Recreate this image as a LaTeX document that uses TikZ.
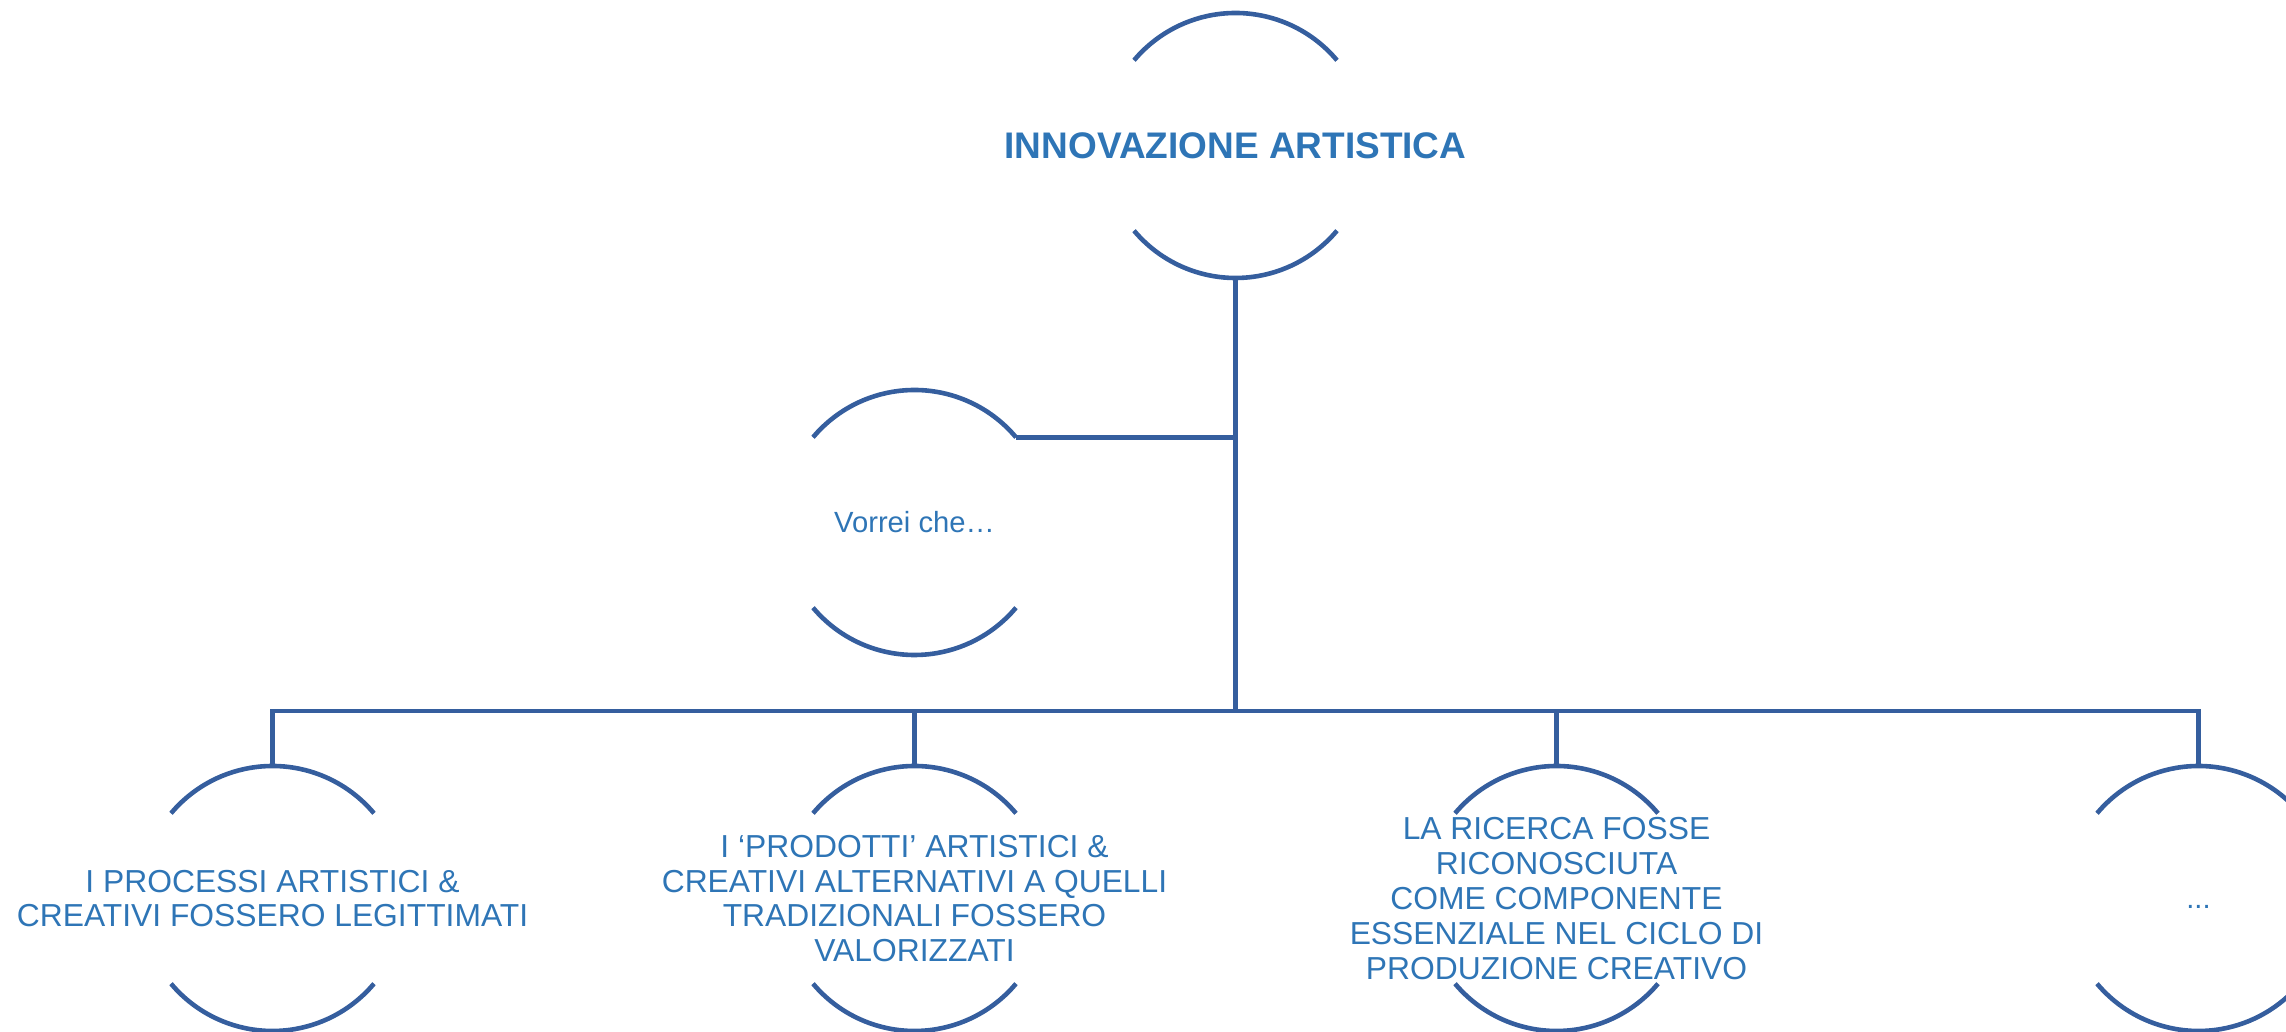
\documentclass[tikz,border=0pt]{standalone}
\usepackage{fontspec}
\setmainfont{Liberation Sans}
\definecolor{linecol}{RGB}{53,94,158}
\definecolor{textcol}{RGB}{46,117,182}
\begin{document}
\begin{tikzpicture}[x=0.5pt,y=0.5pt,
  ring/.style={circle, minimum size=132.5pt, inner sep=0pt, outer sep=0pt, draw=none},
  arcline/.style={draw=linecol, line width=2.3pt},
  conn/.style={draw=linecol, line width=2.3pt},
  bottomtext/.style={text=textcol, align=center, inner sep=0pt, font=\fontsize{15.9pt}{17.4pt}\selectfont},
  titletext/.style={text=textcol, inner sep=0pt, font=\fontsize{18.5pt}{21pt}\selectfont\bfseries},
  midtext/.style={text=textcol, inner sep=0pt, font=\fontsize{14.6pt}{17pt}\selectfont}]
\useasboundingbox (0,0) rectangle (2286,1032);
% ring nodes
\node[ring] (top) at (1235.5,886.5) {};
\node[ring] (vor) at (914.5,509.5) {};
\node[ring] (b1) at (272.5,133.5) {};
\node[ring] (b2) at (914.5,133.5) {};
\node[ring] (b3) at (1556.5,133.5) {};
\node[ring] (b4) at (2198.5,133.5) {};
\foreach \n in {top,vor,b1,b2,b3,b4} {
  \draw[arcline] (\n.40) arc[start angle=40,end angle=140,radius=66.25pt]
                 (\n.220) arc[start angle=220,end angle=320,radius=66.25pt];
}
% texts
\node[titletext] (ttop) at (top.center) {INNOVAZIONE ARTISTICA};
\node[midtext] (tvor) at (vor.center) {Vorrei che…};
\node[bottomtext] (t1) at (b1.center) {I PROCESSI ARTISTICI \&\\CREATIVI FOSSERO LEGITTIMATI};
\node[bottomtext] (t2) at (b2.center) {I ‘PRODOTTI’ ARTISTICI \&\\CREATIVI ALTERNATIVI A QUELLI\\TRADIZIONALI FOSSERO\\VALORIZZATI};
\node[bottomtext] (t3) at (b3.center) {LA RICERCA FOSSE\\RICONOSCIUTA\\COME COMPONENTE\\ESSENZIALE NEL CICLO DI\\PRODUZIONE CREATIVO};
\node[midtext] (t4) at (b4.center) {\vphantom{A}...};
% connectors
\coordinate (bus) at (1235.5,321);
\draw[conn] (top.south) -- (bus);
\draw[conn, line join=miter] (b1.north) |- (bus) -| (b4.north);
\draw[conn] (b2.north) -- (b2.north |- bus);
\draw[conn] (b3.north) -- (b3.north |- bus);
\draw[conn] (vor.40) -- (vor.40 -| top.south);
\end{tikzpicture}
\end{document}
